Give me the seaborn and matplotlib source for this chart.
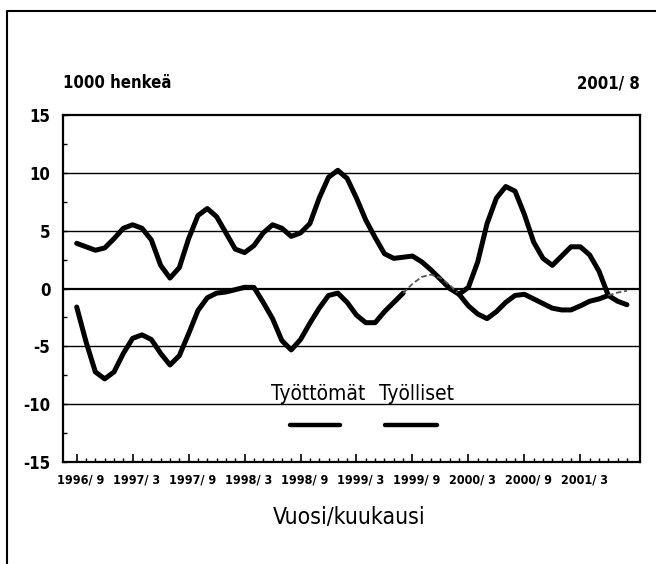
import numpy as np
import pandas as pd
import matplotlib
matplotlib.use("Agg")
import matplotlib.pyplot as plt
import matplotlib.transforms as mtransforms
from matplotlib.lines import Line2D
from matplotlib.ticker import MultipleLocator, FixedLocator
import seaborn as sns

# ---- data (thousand persons, change from year before), monthly 1996/9 .. 2001/8
months = [f"{1996 + (8 + k) // 12}/{(8 + k) % 12 + 1}" for k in range(60)]
tyolliset = [3.9, 3.6, 3.3, 3.5, 4.3, 5.2, 5.5, 5.2, 4.2, 2.0,
             0.9, 1.8, 4.3, 6.3, 6.9, 6.2, 4.8, 3.4, 3.1, 3.7,
             4.8, 5.5, 5.2, 4.5, 4.8, 5.6, 7.8, 9.6, 10.2, 9.5,
             7.8, 5.9, 4.4, 3.0, 2.6, 2.7, 2.8, 2.3, 1.6, 0.8,
             0.0, -0.5, 0.1, 2.3, 5.6, 7.8, 8.8, 8.4, 6.4, 4.0,
             2.6, 2.0, 2.8, 3.6, 3.6, 2.9, 1.5, -0.6, -1.1, -1.4]
tyottomat = [-1.6, -4.6, -7.2, -7.8, -7.2, -5.6, -4.3, -4.0, -4.4, -5.6,
             -6.6, -5.8, -3.9, -1.9, -0.8, -0.4, -0.3, -0.1, 0.1, 0.1,
             -1.2, -2.6, -4.5, -5.3, -4.4, -3.0, -1.7, -0.6, -0.4, -1.2,
             -2.3, -2.95, -2.95, -2.0, -1.2, -0.4, 0.4, 1.0, 1.2, 0.9,
             0.3, -0.5, -1.5, -2.2, -2.6, -2.0, -1.2, -0.6, -0.5, -0.9,
             -1.3, -1.7, -1.85, -1.85, -1.5, -1.1, -0.9, -0.6, -0.35, -0.2]
tick_labels = ["1996/ 9", "1997/ 3", "1997/ 9", "1998/ 3", "1998/ 9",
               "1999/ 3", "1999/ 9", "2000/ 3", "2000/ 9", "2001/ 3"]
series_names = ["Työttömät", "Työlliset"]

# faint (thin dashed) stretches of the unemployed curve in the print
faint_ranges = [(35, 41), (57, 59)]

sns.set_theme(style="white")
plt.rcParams["font.family"] = ["DejaVu Sans"]
plt.rcParams["font.stretch"] = "condensed"
plt.rcParams["text.color"] = "black"
plt.rcParams["xtick.color"] = "black"
plt.rcParams["ytick.color"] = "black"

idx = np.arange(len(months))
df = pd.DataFrame({"i": np.concatenate([idx, idx]),
                   "value": tyottomat + tyolliset,
                   "series": [series_names[0]] * 60 + [series_names[1]] * 60})

fig = plt.figure(figsize=(6.56, 5.64), dpi=100)
W, H = 656, 564
ax = fig.add_axes([63 / W, 1 - 462.3 / H, (640 - 63) / W, (462.3 - 114.7) / H])

LW = 3.6
sns.lineplot(data=df[df.series == series_names[1]], x="i", y="value", ax=ax,
             color="black", lw=LW, estimator=None, sort=True, legend=False)
df_u = df[df.series == series_names[0]]
edges = [0]
for a, b in faint_ranges:
    edges += [a, b]
edges.append(59)
for k in range(len(edges) - 1):
    a, b = edges[k], edges[k + 1]
    if b <= a:
        continue
    seg = df_u[(df_u.i >= a) & (df_u.i <= b)]
    faint = (a, b) in faint_ranges
    sns.lineplot(data=seg, x="i", y="value", ax=ax, estimator=None, sort=True,
                 legend=False, color="#555555" if faint else "black",
                 lw=1.3 if faint else LW, linestyle=(0, (3, 1.5)) if faint else "-")

ax.set_xlim(-1.47, 60.4)
ax.set_ylim(-15, 15)

for y in [-10, -5, 5, 10]:
    ax.axhline(y, color="black", lw=1.0, zorder=0)
ax.axhline(0, color="black", lw=1.6, zorder=0)

for s in ax.spines.values():
    s.set_color("black")
    s.set_linewidth(1.6)
    s.set_visible(True)

ax.yaxis.set_minor_locator(MultipleLocator(2.5))
ax.set_yticks([-15, -10, -5, 0, 5, 10, 15])
ax.set_yticklabels(["-15", "-10", "-5", "0", "5", "10", "15"])
ax.set_xticks(np.arange(0, 60, 6))
ax.set_xticklabels(tick_labels)
ax.xaxis.set_minor_locator(FixedLocator(np.arange(0, 60, 1)))

ax.tick_params(axis="x", which="major", direction="in", length=6, width=1.2,
               color="black", pad=8, labelsize=9, bottom=True)
ax.tick_params(axis="x", which="minor", direction="in", length=3, width=1.0,
               color="black", bottom=True)
ax.tick_params(axis="y", which="both", direction="in", length=3, width=1.0,
               color="black", pad=9, labelsize=12, left=True)
for lab in ax.get_yticklabels():
    lab.set_fontweight("bold")
for lab in ax.get_xticklabels():
    lab.set_fontweight("bold")
    lab.set_transform(lab.get_transform() + mtransforms.ScaledTranslation(4 / 100, 0, fig.dpi_scale_trans))

ax.set_xlabel("")
ax.set_ylabel("")

lx = ax.transData
for name, xc, (x0, x1) in [(series_names[0], 25.9, (22.9, 28.2)),
                           (series_names[1], 36.4, (33.1, 38.6))]:
    ax.text(xc, -9.1, name, ha="center", va="center", fontsize=15, color="black")
    ax.add_line(Line2D([x0, x1], [-11.8, -11.8], color="black", lw=3.2, transform=lx))

fig.text(63 / W, 1 - 83 / H, "1000 henkeä", ha="left", va="center", fontsize=12, fontweight="bold")
fig.text(640 / W, 1 - 83 / H, "2001/ 8", ha="right", va="center", fontsize=12, fontweight="bold")
fig.text(349 / W, 1 - 518 / H, "Vuosi/kuukausi", ha="center", va="center", fontsize=16.5)

fig.add_artist(Line2D([7 / W, 7 / W, 1.0], [0, 1 - 11 / H, 1 - 11 / H],
                      transform=fig.transFigure, color="black", lw=1.5))

fig.savefig("out.png", dpi=100)
